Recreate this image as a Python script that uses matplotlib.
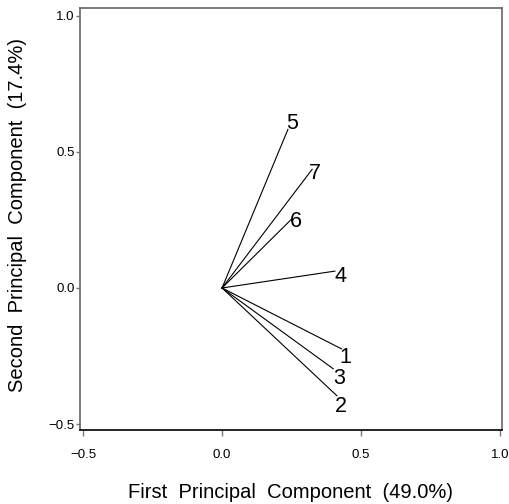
import matplotlib
matplotlib.use("Agg")
import matplotlib.pyplot as plt
import numpy as np

plt.rcParams['font.family'] = ['Liberation Sans', 'DejaVu Sans']

# loadings of the 7 variables on PC1 / PC2
var_names = ['1', '2', '3', '4', '5', '6', '7']
pc1 = [0.43, 0.413, 0.40, 0.406, 0.237, 0.25, 0.324]
pc2 = [-0.224, -0.396, -0.297, 0.062, 0.583, 0.253, 0.436]
# label offsets in points from the arrow tip
lab_off = [(3, -6), (3, -8), (4, -7), (4, -4), (3, 4), (3, -2), (2, -3)]

xlab = 'First  Principal  Component  (49.0%)'
ylab = 'Second  Principal  Component  (17.4%)'

fig = plt.figure(figsize=(5.09, 5.04), dpi=100)
ax = fig.add_axes([80/509, 1-430/504, 422/509, 422/504])

for i in range(len(var_names)):
    ax.plot([0, pc1[i]], [0, pc2[i]], color='black', lw=0.8)
    ax.annotate(var_names[i], xy=(pc1[i], pc2[i]), xytext=lab_off[i],
                textcoords='offset points', ha='center', va='center', fontsize=15.5)

ax.set_xlim(-0.511, 1.007)
ax.set_ylim(-0.522, 1.029)
ax.set_xticks([-0.5, 0.0, 0.5, 1.0])
ax.set_yticks([-0.5, 0.0, 0.5, 1.0])
ax.set_xticklabels(['\u22120.5', '0.0', '0.5', '1.0'])
ax.set_yticklabels(['\u22120.5', '0.0', '0.5', '1.0'])
ax.tick_params(axis='x', direction='out', length=4, width=1, color='#777777',
               labelsize=9.5, pad=10)
ax.tick_params(axis='y', direction='out', length=3, width=1, color='#777777',
               labelsize=9.5, pad=1)
for s in ['left', 'top', 'right']:
    ax.spines[s].set_color('#666666')
    ax.spines[s].set_linewidth(1.2)
ax.spines['bottom'].set_color('black')
ax.spines['bottom'].set_linewidth(1.2)

fig.text(291/509, 1-492/504, xlab, ha='center', va='center', fontsize=14.5)
fig.text(18/509, 1-215/504, ylab, ha='center', va='center', fontsize=14.5,
         rotation=90)

fig.savefig('out.png', dpi=100)
